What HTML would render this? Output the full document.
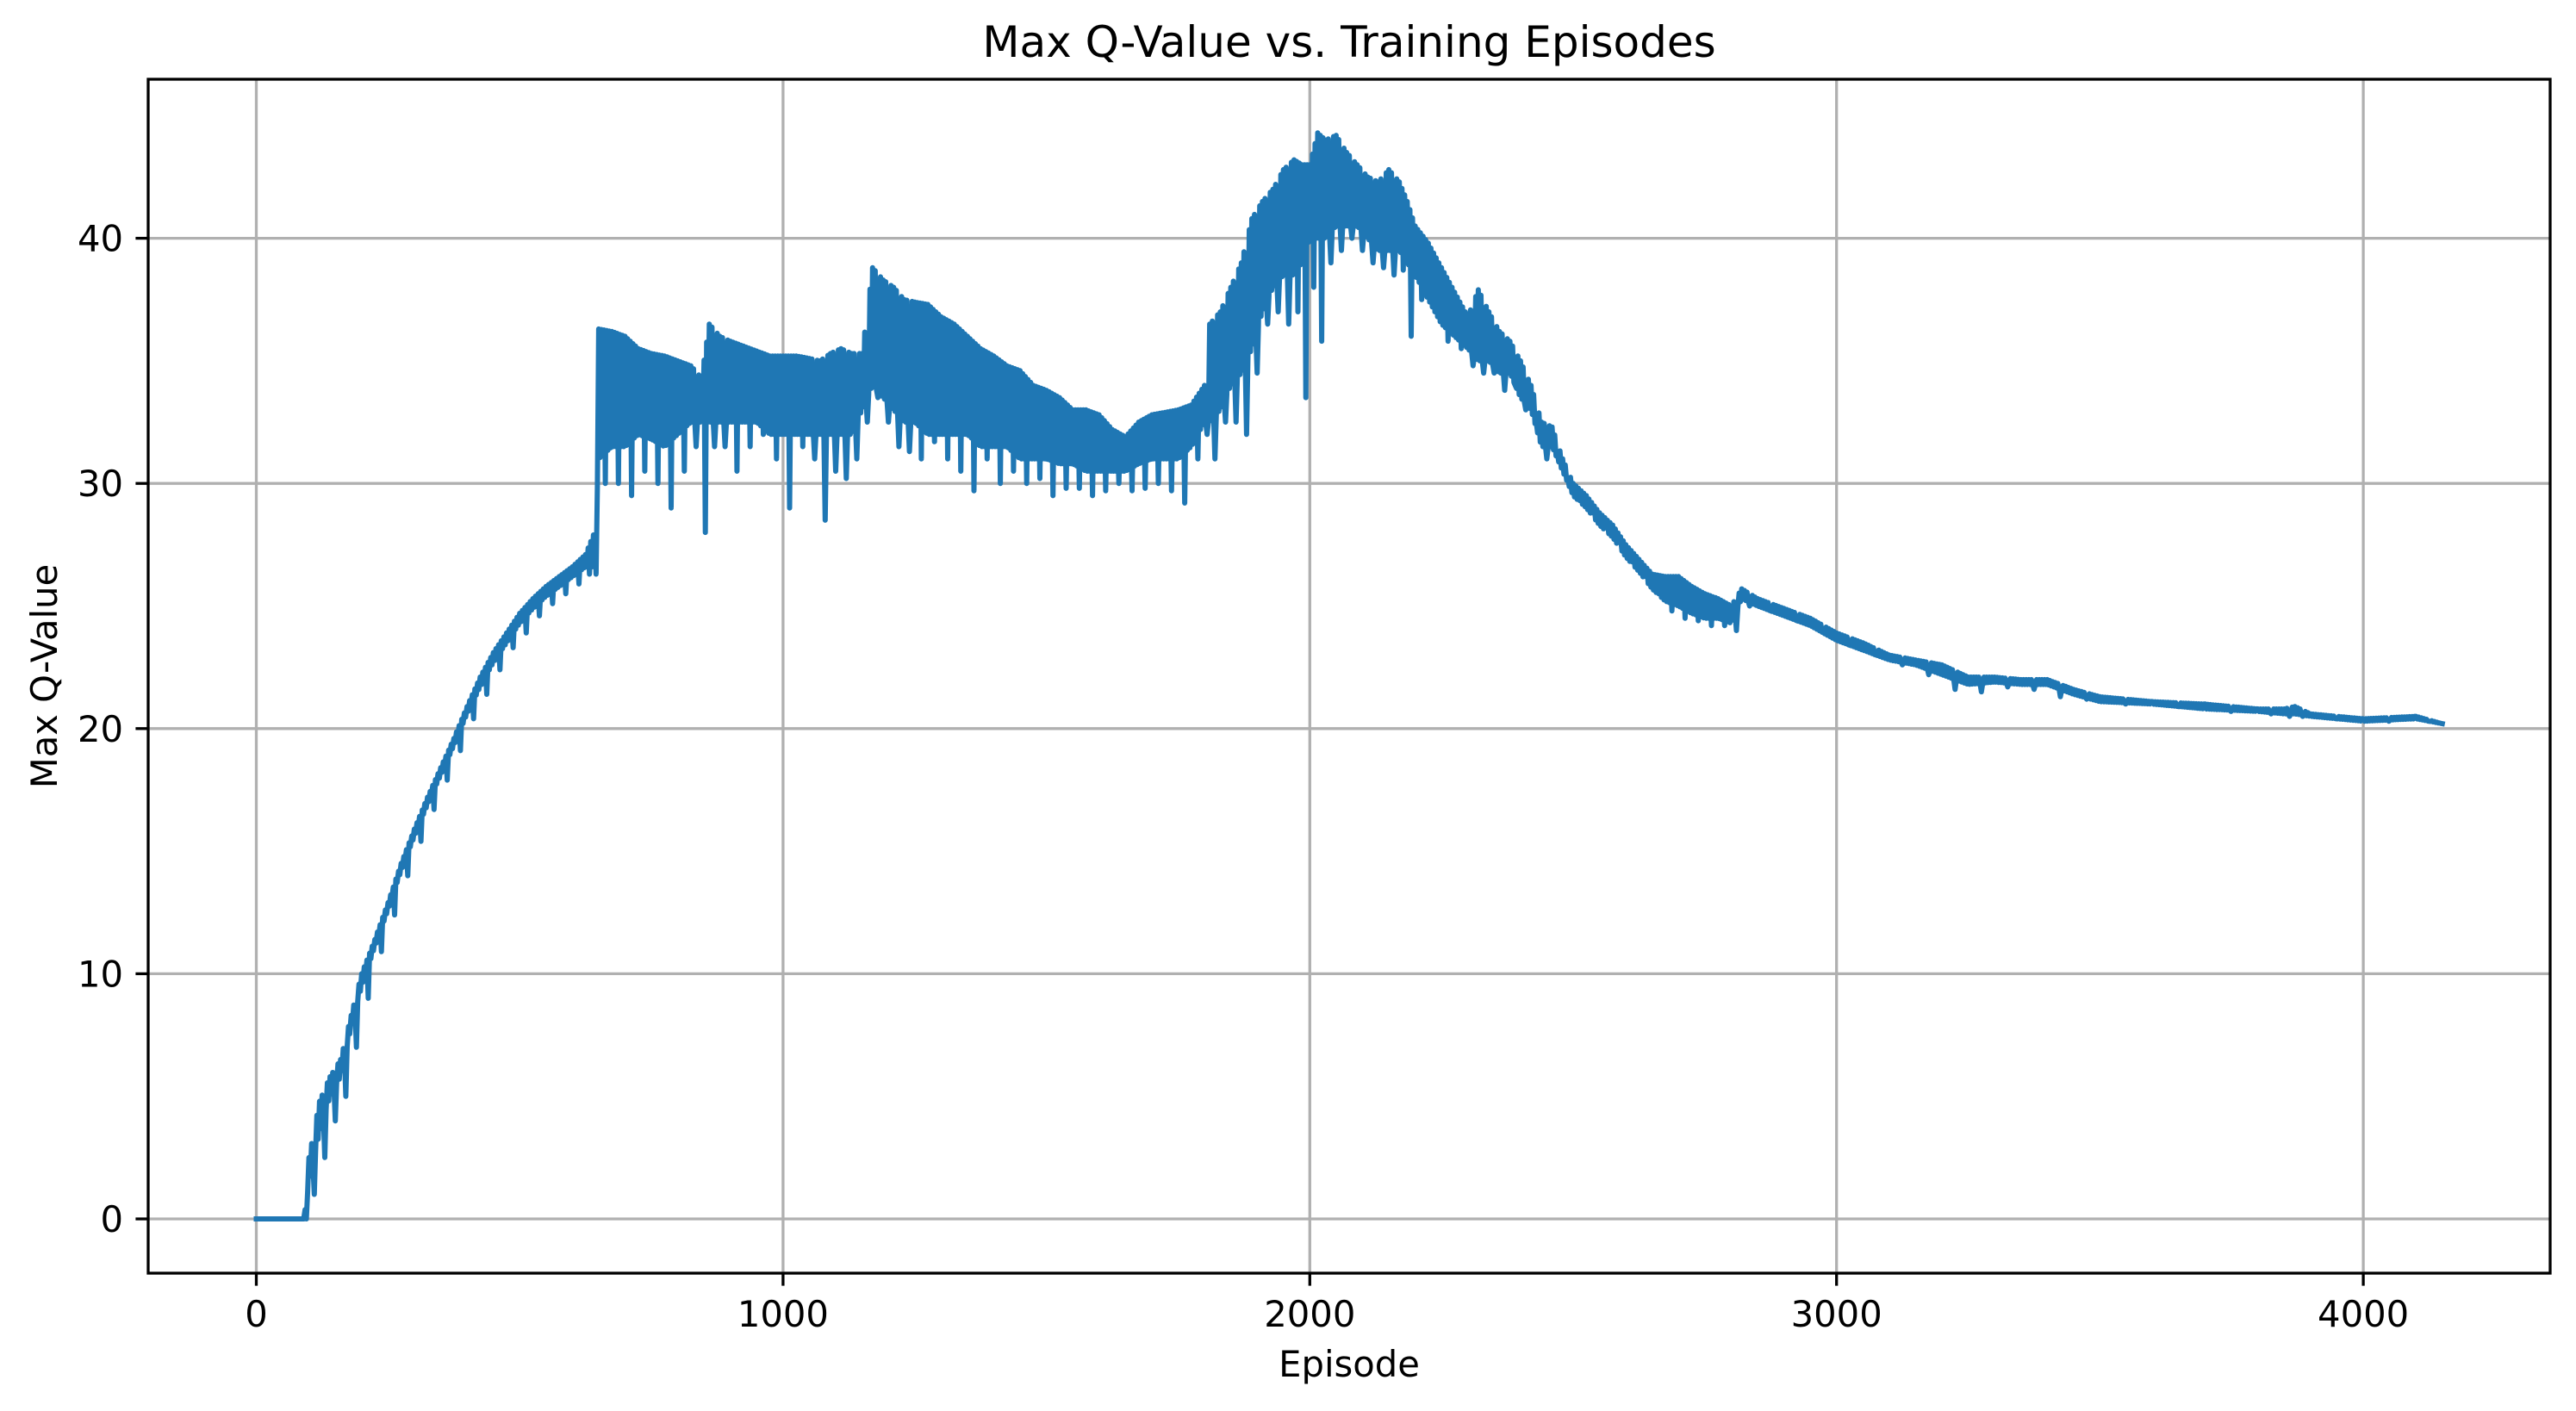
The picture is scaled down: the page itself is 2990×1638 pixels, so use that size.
<!DOCTYPE html>
<html><head><meta charset="utf-8"><style>
html,body{margin:0;padding:0;background:#fff;}
svg{display:block;}
text{font-family:"DejaVu Sans","Liberation Sans",sans-serif;fill:#000;}
</style></head><body>
<svg id="chart" width="2990" height="1638" viewBox="0 0 2990 1638" xmlns="http://www.w3.org/2000/svg">
<rect width="2990" height="1638" fill="#fff"/>
<g id="grid"></g>
<g id="series"></g>
<rect x="172" y="92" width="2788" height="1386" fill="none" stroke="#000" stroke-width="3.3"/>
<g id="xticks"></g>
<g id="yticks"></g>
<text x="1566" y="66" font-size="50" text-anchor="middle">Max Q-Value vs. Training Episodes</text>
<text x="1566" y="1598" font-size="41.7" text-anchor="middle">Episode</text>
<text x="0" y="0" font-size="41.7" text-anchor="middle" transform="translate(66,785) rotate(-90)">Max Q-Value</text>
</svg>
<script>
const xTicks = [0, 1000, 2000, 3000, 4000];
const yTicks = [0, 10, 20, 30, 40];
const episodes = [0,90,100,120,140,160,180,200,225,250,275,300,325,350,375,400,425,450,475,500,525,550,575,600,625,640,
650,675,700,725,750,775,800,825,845,860,880,900,925,950,975,1000,1025,1050,1070,1090,1110,1130,1150,1170,1190,1210,1230,1250,1275,1300,1325,1350,1375,1400,1425,1450,1475,1500,1525,1550,1575,1600,1625,1650,1675,1700,1725,1750,1775,1800,1810,1830,1850,1870,1890,1910,1930,1950,1970,1985,2000,2015,2030,2050,2070,2090,2110,2130,2150,2170,2185,2200,2225,2250,2275,2300,2320,2340,2360,2380,2400,2420,2440,2460,2480,2500,
2525,2550,2575,2600,2625,2650,2675,2700,2725,2750,2775,2800,2820,2850,2900,2950,3000,3050,3100,3150,3200,3250,3300,3350,3400,3450,3500,3600,3700,3800,3850,3870,3900,4000,4100,4150];
const highVals = [0,0,2.5,4.8,5.8,6.5,8.3,10,11.4,12.9,14.5,15.9,17.2,18.4,19.6,20.9,22.1,23.1,23.9,24.7,25.3,25.8,26.2,26.6,27.1,27.9,
36.3,36.2,36.0,35.5,35.3,35.2,35.0,34.8,34.3,36.5,36.0,35.8,35.6,35.4,35.2,35.2,35.2,35.1,35.0,35.3,35.5,35.3,35.3,38.8,38.3,38.0,37.5,37.4,37.3,36.8,36.5,36.0,35.5,35.2,34.8,34.6,34.0,33.8,33.5,33.0,33.0,32.8,32.2,31.9,32.5,32.8,32.9,33.0,33.2,34,36.5,37.0,38.0,39.0,40.8,41.5,42.0,42.8,43.2,43.0,43.0,44.3,44.0,44.2,43.5,43.0,42.5,42.3,42.8,42.3,41.5,40.5,39.8,38.8,37.8,36.8,37.9,37.0,36.2,35.8,35.0,34.0,32.5,32.3,31.0,30.0,
29.5,28.8,28.3,27.5,26.9,26.3,26.2,26.2,25.8,25.5,25.3,25.0,25.7,25.3,24.9,24.5,23.9,23.5,23.0,22.8,22.6,22.1,22.1,22.0,22.0,21.6,21.3,21.1,21.0,20.8,20.8,20.9,20.6,20.4,20.5,20.2];
const coreVals = [0,0,1.5,3.5,5,5.8,7.8,9.5,11.1,12.6,14.2,15.6,16.9,18.1,19.3,20.6,21.7,22.7,23.5,24.3,24.9,25.4,25.8,26.2,26.6,26.6,
31,31.5,31.5,32,31.8,31.5,32,32.5,32.5,32.5,32.5,32.5,32.5,32.5,32,32,32,32,32,32,32,32,33,34,33.5,33,32.5,32.5,32,32,32,32,31.5,31.5,31.5,31,31,31,30.8,30.8,30.5,30.5,30.5,30.5,30.8,31,31,31,31.5,32.5,32.5,33,34,34.5,35.5,37,38,38.5,38.5,39,40,40,40,40.5,40.5,40.5,40,39.5,39.5,39.5,39,38.5,37.5,36.5,36,35.5,35,35,34.5,34.5,33.5,33,31.5,31.5,30.5,29.5,
29,28.3,27.8,27,26.4,25.7,25.2,25,24.7,24.5,24.5,24.3,25.3,25,24.6,24.2,23.6,23.2,22.8,22.6,22.2,21.8,21.9,21.8,21.8,21.4,21.1,21.0,20.8,20.7,20.6,20.6,20.5,20.3,20.4,20.2];
const lowVals = [0,0,1,2.5,4,5,7,9,10.9,12.4,14,15.4,16.7,17.9,19.1,20.4,21.4,22.4,23.3,23.9,24.6,25.1,25.5,25.9,26.3,26.3,
30,30,29.5,30.5,30,29,30.5,31.5,28,31.5,31.5,30.5,31.5,32,31,29,31.5,31,28.5,30.5,30.2,31,32.5,33.5,32.5,31.5,31.3,31,31.7,31,30.5,29.7,31,30,30.5,30,30.2,29.5,29.8,29.8,29.5,29.7,30,29.7,29.8,30,29.7,29.2,31,32,31,32.5,32.5,32,34.5,36.5,37,36.5,37,33.5,38,35.8,39,39.5,40,39.5,39,38.8,38.5,38.7,36,37.5,37,35.8,35.5,34.8,34.5,34.5,33.8,34,33,32.5,31,31.3,30.2,29.3,
28.8,28.2,27.6,26.8,26.2,25.5,24.8,24.5,24.4,24.2,24.2,24.0,25,24.8,24.4,24.0,23.4,23.0,22.6,22.2,21.6,21.5,21.7,21.6,21.3,21.2,21.0,20.9,20.7,20.6,20.5,20.5,20.4,20.3,20.3,20.2];

const NS = 'http://www.w3.org/2000/svg';
const X0 = 297.5, XS = 0.6114, Y0 = 1415, YS = 28.46;
function xScale(v){ return X0 + v * XS; }
function yScale(v){ return Y0 - v * YS; }
function mk(tag, attrs, parent){
  const el = document.createElementNS(NS, tag);
  for (const k in attrs) el.setAttribute(k, attrs[k]);
  parent.appendChild(el);
  return el;
}
const grid = document.getElementById('grid');
const xt = document.getElementById('xticks');
const yt = document.getElementById('yticks');
xTicks.forEach(t => {
  const x = xScale(t);
  const g = mk('line', {x1:x, x2:x, y1:92, y2:1478, stroke:'#b0b0b0', 'stroke-width':3.3}, grid);
  
  
  const tk = mk('line', {x1:x, x2:x, y1:1478, y2:1492.6, stroke:'#000', 'stroke-width':3.3}, xt);
  
  
  const lb = mk('text', {x:x, y:1540, 'font-size':41.7, 'text-anchor':'middle'}, xt);
  lb.textContent = String(t);
  
  
});
yTicks.forEach(t => {
  const y = yScale(t);
  const g = mk('line', {x1:172, x2:2960, y1:y, y2:y, stroke:'#b0b0b0', 'stroke-width':3.3}, grid);
  
  
  const tk = mk('line', {x1:157.4, x2:172, y1:y, y2:y, stroke:'#000', 'stroke-width':3.3}, yt);
  
  
  const lb = mk('text', {x:143, y:y+15, 'font-size':41.7, 'text-anchor':'end'}, yt);
  lb.textContent = String(t);
  
  
});
// series: oscillate densely between high and core envelope, dipping to low once per interval
let d = '';
for (let i = 0; i < episodes.length - 1; i++) {
  const px0 = xScale(episodes[i]), px1 = xScale(episodes[i+1]);
  const n = Math.max(1, Math.round((px1 - px0) / 1.5));
  for (let k = 0; k < n; k++) {
    const t = k / n;
    const hi = highVals[i] + (highVals[i+1] - highVals[i]) * t;
    const co = coreVals[i] + (coreVals[i+1] - coreVals[i]) * t;
    let v = (k % 2 === 0) ? hi : co;
    if (k === Math.floor(n / 2) && n > 1) v = lowVals[i];
    if (n === 1) v = highVals[i];
    const x = px0 + (px1 - px0) * t;
    d += (d ? 'L' : 'M') + x.toFixed(1) + ' ' + yScale(v).toFixed(1);
  }
}
const last = episodes.length - 1;
d += 'L' + xScale(episodes[last]).toFixed(1) + ' ' + yScale(highVals[last]).toFixed(1);
const path = mk('path', {d:d, fill:'none', stroke:'#1f77b4', 'stroke-width':6, 'stroke-linejoin':'round', 'stroke-linecap':'square'}, document.getElementById('series'));


</script>
</body></html>
